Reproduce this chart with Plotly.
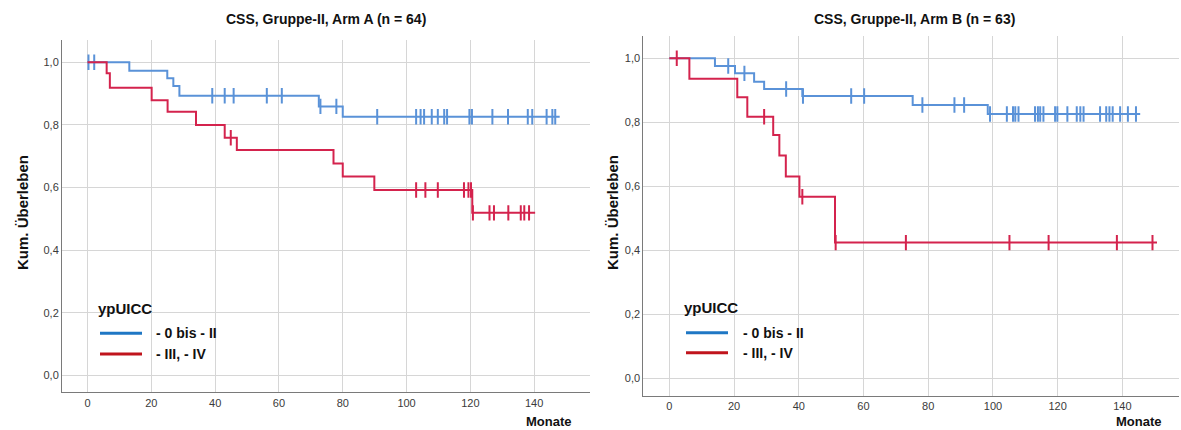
import numpy as np
import plotly.graph_objects as go

# ---------------- data (months, cumulative survival) ----------------
# Arm A, ypUICC 0 - II
a_low_event_t = [13.1, 25.0, 26.9, 28.8, 72.5, 80.0]
a_low_event_s = [0.973, 0.949, 0.924, 0.893, 0.859, 0.826]
a_low_censor = [0.3, 2.1, 39.1, 43.0, 45.8, 56.2, 60.9, 73.0, 78.0, 90.8, 103.0, 104.4,
                105.5, 107.9, 109.8, 111.8, 112.7, 119.7, 120.5, 126.9, 131.8, 138.0,
                139.4, 143.9, 145.7, 146.6]
a_low_end = 148.0

# Arm A, ypUICC III - IV
a_high_event_t = [6.0, 7.0, 20.1, 25.1, 34.0, 43.0, 46.8, 77.1, 80.0, 89.9, 120.6]
a_high_event_s = [0.965, 0.919, 0.879, 0.842, 0.800, 0.759, 0.720, 0.677, 0.635, 0.592, 0.519]
a_high_censor = [44.9, 103.0, 105.9, 109.8, 118.0, 119.4, 120.2, 120.8, 126.0, 127.4,
                 131.9, 135.8, 136.9, 138.4]
a_high_end = 140.3

# Arm B, ypUICC 0 - II
b_low_event_t = [14.1, 20.3, 26.2, 29.3, 41.1, 75.2, 98.4]
b_low_event_s = [0.976, 0.953, 0.927, 0.904, 0.882, 0.854, 0.826]
b_low_censor = [18.2, 23.2, 36.1, 41.3, 56.2, 60.2, 78.2, 88.1, 91.1, 99.1, 104.3, 106.2,
                106.9, 107.9, 113.0, 113.9, 114.6, 115.6, 119.2, 119.9, 123.0, 125.9,
                127.0, 128.0, 133.1, 135.0, 136.0, 137.0, 139.3, 141.7, 144.2]
b_low_end = 145.5

# Arm B, ypUICC III - IV
b_high_event_t = [6.2, 21.0, 24.1, 32.1, 34.0, 36.0, 40.2, 51.2]
b_high_event_s = [0.936, 0.878, 0.8175, 0.760, 0.696, 0.631, 0.5675, 0.424]
b_high_censor = [2.3, 29.3, 41.1, 51.4, 73.1, 105.1, 117.2, 138.3, 149.3]
b_high_end = 150.7

x_ticks = [0, 20, 40, 60, 80, 100, 120, 140]
y_ticks = [0.0, 0.2, 0.4, 0.6, 0.8, 1.0]
titles = ["CSS, Gruppe-II, Arm A (n = 64)", "CSS, Gruppe-II, Arm B (n = 63)"]
legend_title = "ypUICC"
group_names = ["- 0 bis - II", "- III, - IV"]

# ---------------- styling ----------------
W, H = 1181, 430
FONT = "Liberation Sans, Arial, sans-serif"
CURVE_COL = ["#5a92d8", "#d4234d"]
LEGEND_COL = ["#1f77c4", "#c0141c"]
GRID = "#d6d6d6"


def step_xy(event_t, event_s, end):
    xs = [0.0] + list(event_t) + [end]
    ys = [1.0] + list(event_s) + [event_s[-1]]
    return xs, ys


def censor_y(event_t, event_s, censor):
    t = np.asarray(event_t)
    s = np.concatenate([[1.0], np.asarray(event_s)])
    idx = np.searchsorted(t, np.asarray(censor), side="right")
    return s[idx]


fig = go.Figure()

panels = [
    ("x", "y", [(a_low_event_t, a_low_event_s, a_low_censor, a_low_end),
                (a_high_event_t, a_high_event_s, a_high_censor, a_high_end)]),
    ("x2", "y2", [(b_low_event_t, b_low_event_s, b_low_censor, b_low_end),
                  (b_high_event_t, b_high_event_s, b_high_censor, b_high_end)]),
]

for xa, ya, groups in panels:
    for gi, (et, es, cens, end) in enumerate(groups):
        xs, ys = step_xy(et, es, end)
        fig.add_trace(go.Scatter(
            x=xs, y=ys, mode="lines", line=dict(color=CURVE_COL[gi], width=2, shape="hv"),
            xaxis=xa, yaxis=ya, showlegend=False, hoverinfo="skip"))
        fig.add_trace(go.Scatter(
            x=cens, y=censor_y(et, es, cens), mode="markers",
            marker=dict(symbol="line-ns", size=11,
                        line=dict(color=CURVE_COL[gi], width=2)),
            xaxis=xa, yaxis=ya, showlegend=False, hoverinfo="skip"))

# ---------------- axes ----------------
ax_common = dict(showgrid=True, gridcolor=GRID, gridwidth=1, zeroline=False,
                 showline=True, linecolor="#7a7a7a", linewidth=1, ticks="",
                 tickfont=dict(family=FONT, size=11, color="#3a3a3a"))

fig.update_layout(
    width=W, height=H, margin=dict(l=0, r=0, t=0, b=0),
    paper_bgcolor="white", plot_bgcolor="white", showlegend=False,
    separators=",.",
    xaxis=dict(domain=[62 / W, 590 / W], range=[-8.0, 157.5], anchor="y",
               tickvals=x_ticks, **ax_common),
    yaxis=dict(domain=[(H - 392.3) / H, (H - 40) / H], range=[-0.0543, 1.0712], anchor="x",
               tickvals=y_ticks, tickformat=".1f", **ax_common),
    xaxis2=dict(domain=[643.3 / W, 1178.7 / W], range=[-8.04, 157.4], anchor="y2",
                tickvals=x_ticks, **ax_common),
    yaxis2=dict(domain=[(H - 396) / H, (H - 36) / H], range=[-0.0553, 1.0697], anchor="x2",
                tickvals=y_ticks, tickformat=".1f", **ax_common),
)

# ---------------- titles and axis labels ----------------
ann = []
for tx, cx in zip(titles, [326, 914]):
    ann.append(dict(text=f"<b>{tx}</b>", x=cx / W, y=1 - 19 / H, xref="paper", yref="paper",
                    showarrow=False, xanchor="center", yanchor="middle",
                    font=dict(family=FONT, size=14, color="#111")))
for cx in [22, 612]:
    ann.append(dict(text="<b>Kum. Überleben</b>", x=cx / W, y=1 - 213 / H,
                    xref="paper", yref="paper", textangle=-90, showarrow=False,
                    xanchor="center", yanchor="middle",
                    font=dict(family=FONT, size=15, color="#111")))
for cx in [549, 1139]:
    ann.append(dict(text="<b>Monate</b>", x=cx / W, y=1 - 421 / H, xref="paper", yref="paper",
                    showarrow=False, xanchor="center", yanchor="middle",
                    font=dict(family=FONT, size=13, color="#111")))

# ---------------- in-plot legends ----------------
shapes = []
legend_boxes = [
    dict(box=(83, 242, 283, 369), tx=95.5, ty=308, lx0=100, lx1=142, txt=153.5, rows=(333.3, 354)),
    dict(box=(664, 818, 285, 371), tx=682, ty=307.7, lx0=686, lx1=728, txt=740.5, rows=(332.7, 352.7)),
]
for lb in legend_boxes:
    x0, x1, y0, y1 = lb["box"]
    shapes.append(dict(type="rect", xref="paper", yref="paper", layer="between",
                       x0=x0 / W, x1=x1 / W, y0=1 - y1 / H, y1=1 - y0 / H,
                       fillcolor="white", line=dict(width=0)))
    ann.append(dict(text=f"<b>{legend_title}</b>", x=lb["tx"] / W, y=1 - lb["ty"] / H,
                    xref="paper", yref="paper", showarrow=False, xanchor="left",
                    yanchor="middle", font=dict(family=FONT, size=15, color="#111")))
    for gi, ry in enumerate(lb["rows"]):
        shapes.append(dict(type="line", xref="paper", yref="paper", layer="above",
                           x0=lb["lx0"] / W, x1=lb["lx1"] / W, y0=1 - ry / H, y1=1 - ry / H,
                           line=dict(color=LEGEND_COL[gi], width=3)))
        ann.append(dict(text=f"<b>{group_names[gi]}</b>", x=lb["txt"] / W, y=1 - ry / H,
                        xref="paper", yref="paper", showarrow=False, xanchor="left",
                        yanchor="middle", font=dict(family=FONT, size=14, color="#111")))

fig.update_layout(annotations=ann, shapes=shapes)
fig.write_html("out.html")
